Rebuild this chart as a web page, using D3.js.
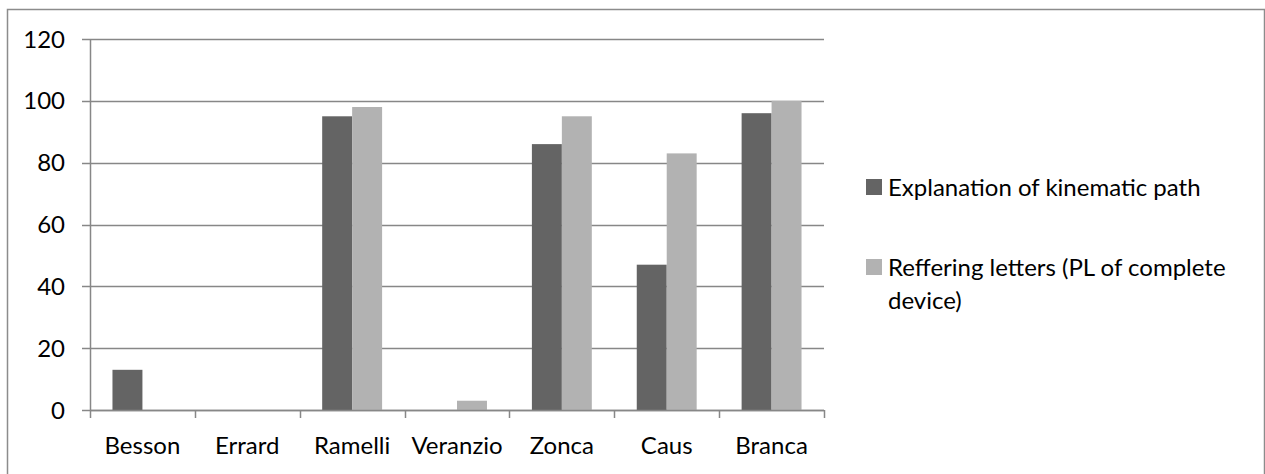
<!DOCTYPE html>
<html>
<head>
<meta charset="utf-8">
<script src="https://cdn.jsdelivr.net/npm/d3@7"></script>
<style>
  body { margin: 0; background: #fff; }
  svg text { font-family: Lato, "Open Sans", sans-serif; fill: #000; }
</style>
</head>
<body>
<div id="chart"></div>
<script>
// data
var categories = ["Besson", "Errard", "Ramelli", "Veranzio", "Zonca", "Caus", "Branca"];
var seriesNames = ["Explanation of kinematic path", "Reffering letters (PL of complete device)"];
var kinematicPath = [13, 0, 95, 0, 86, 47, 96];
var refferingLetters = [0, 0, 98, 3, 95, 83, 100];
var yTicks = [0, 20, 40, 60, 80, 100, 120];
var legendLines = [["Explanation of kinematic path"], ["Reffering letters (PL of complete", "device)"]];
var colors = ["#646464", "#b2b2b2"];

var W = 1265, H = 474;
var margin = { left: 90, right: 441, top: 39, bottom: 64 };
var width = W - margin.left - margin.right,
    height = H - margin.top - margin.bottom;
var fontSize = "24px";

var svg = d3.select("#chart").append("svg")
    .attr("width", W)
    .attr("height", H);

// outer chart border
svg.append("rect")
    .attr("x", 7.5).attr("y", 9.5)
    .attr("width", 1257).attr("height", 480)
    .attr("fill", "none")
    .attr("stroke", "#8c8c8c")
    .attr("stroke-width", 1.5);

var g = svg.append("g")
    .attr("transform", "translate(" + margin.left + "," + margin.top + ")");

var x0 = d3.scaleBand().domain(categories).range([0, width]).padding(0);
var x1 = d3.scaleBand().domain(seriesNames).range([0, x0.bandwidth()])
    .paddingInner(0).paddingOuter(0.75);
var y = d3.scaleLinear().domain([0, 120]).range([height, 0]);

// gridlines
g.append("g")
    .selectAll("line")
    .data(yTicks)
    .enter().append("line")
    .attr("x1", -8).attr("x2", width)
    .attr("y1", function(d) { return Math.round(y(d)) + 0.5; })
    .attr("y2", function(d) { return Math.round(y(d)) + 0.5; })
    .attr("stroke", "#878787")
    .attr("stroke-width", 1.5);

// y labels
g.append("g")
    .selectAll("text")
    .data(yTicks)
    .enter().append("text")
    .attr("x", -25)
    .attr("y", function(d) { return y(d); })
    .attr("dy", "0.36em")
    .attr("text-anchor", "end")
    .attr("font-size", fontSize)
    .text(function(d) { return d; });

// bars
var rows = categories.map(function(c, i) {
    return { cat: c, values: [kinematicPath[i], refferingLetters[i]] };
});

var groups = g.selectAll(".grp")
    .data(rows)
    .enter().append("g")
    .attr("class", "grp")
    .attr("transform", function(d) { return "translate(" + x0(d.cat) + ",0)"; });

groups.selectAll("rect")
    .data(function(d) {
        return d.values.map(function(v, j) { return { s: seriesNames[j], v: v, j: j }; });
    })
    .enter().append("rect")
    .attr("x", function(d) { return x1(d.s); })
    .attr("width", x1.bandwidth())
    .attr("y", function(d) { return y(d.v); })
    .attr("height", function(d) { return height - y(d.v); })
    .attr("fill", function(d) { return colors[d.j]; });

// y axis line
g.append("line")
    .attr("x1", 0.5).attr("x2", 0.5)
    .attr("y1", 0).attr("y2", height)
    .attr("stroke", "#878787")
    .attr("stroke-width", 1.5);

// x axis line + ticks
g.append("line")
    .attr("x1", 0).attr("x2", width)
    .attr("y1", height + 0.5).attr("y2", height + 0.5)
    .attr("stroke", "#878787")
    .attr("stroke-width", 1.5);

var tickPos = categories.map(function(c) { return x0(c); }).concat([width]);
g.append("g")
    .selectAll("line")
    .data(tickPos)
    .enter().append("line")
    .attr("x1", function(d) { return Math.round(d) + 0.5; })
    .attr("x2", function(d) { return Math.round(d) + 0.5; })
    .attr("y1", height).attr("y2", height + 8)
    .attr("stroke", "#878787")
    .attr("stroke-width", 1.5);

// x labels
g.append("g")
    .selectAll("text")
    .data(categories)
    .enter().append("text")
    .attr("x", function(d) { return x0(d) + x0.bandwidth() / 2; })
    .attr("y", height + 35)
    .attr("dy", "0.36em")
    .attr("text-anchor", "middle")
    .attr("font-size", fontSize)
    .text(function(d) { return d; });

// legend
var legendTop = [187, 267];
var legend = svg.append("g");
legendLines.forEach(function(lines, i) {
    legend.append("rect")
        .attr("x", 866).attr("y", legendTop[i] - 8)
        .attr("width", 16).attr("height", 16)
        .attr("fill", colors[i]);
    var t = legend.append("text")
        .attr("x", 888)
        .attr("y", legendTop[i])
        .attr("font-size", fontSize);
    lines.forEach(function(line, k) {
        t.append("tspan")
            .attr("x", 888)
            .attr("dy", k === 0 ? "0.36em" : 33)
            .text(line);
    });
});
</script>
</body>
</html>
